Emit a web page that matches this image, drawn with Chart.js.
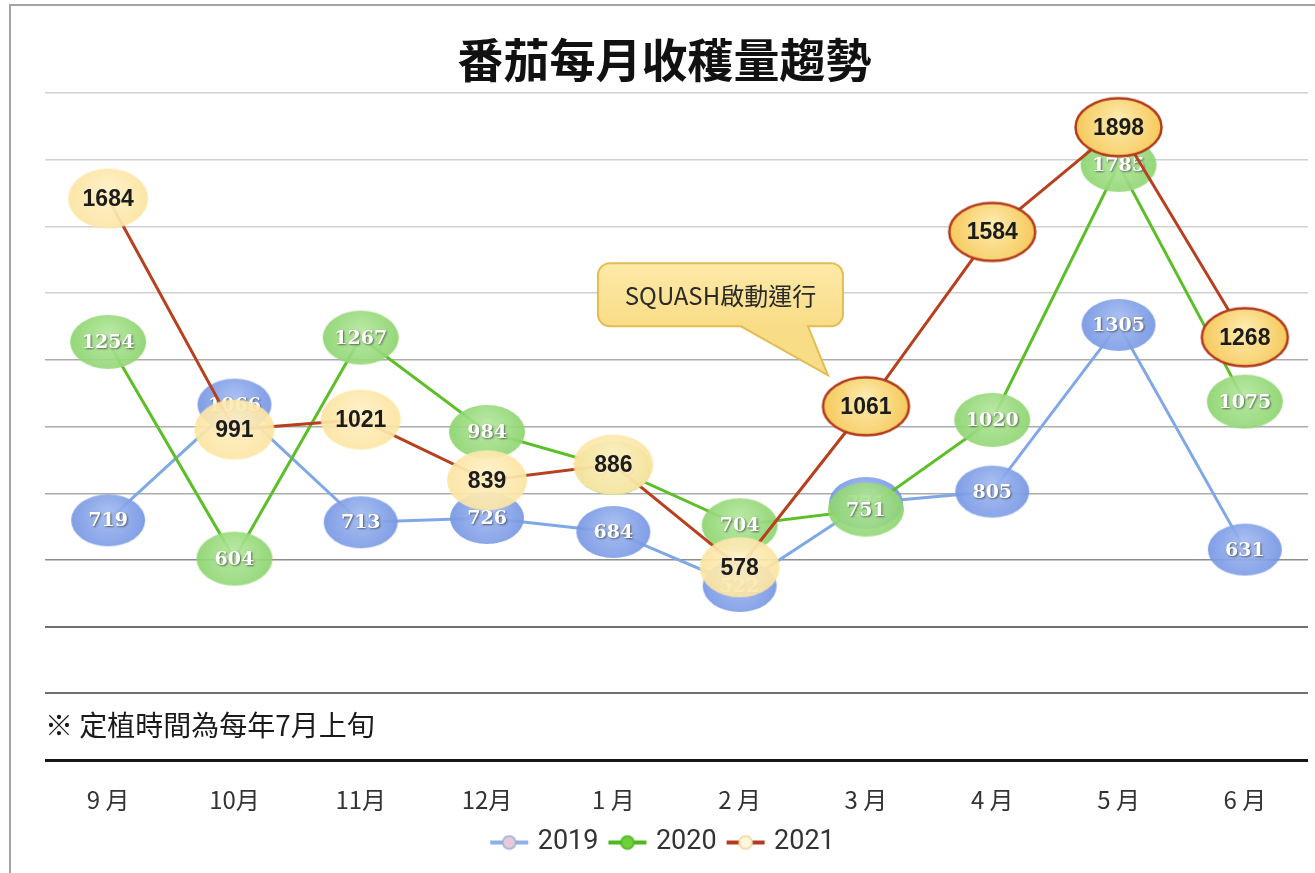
<!DOCTYPE html>
<html>
<head>
<meta charset="utf-8">
<script src="https://cdn.jsdelivr.net/npm/chart.js@4.4.1/dist/chart.umd.min.js"></script>
<style>
  html, body { margin: 0; padding: 0; background: #fff; overflow: hidden; width: 1315px; height: 873px; }
  #frame { position: absolute; left: 9px; top: 4px; border-left: 2px solid #a3a3a3; border-top: 2px solid #a3a3a3; }
  canvas { display: block; }
</style>
</head>
<body>
<div id="frame"><canvas id="harvest-chart" width="1330" height="867"></canvas></div>
<script>
// data
const months = ['9 月', '10月', '11月', '12月', '1 月', '2 月', '3 月', '4 月', '5 月', '6 月'];
const harvest2019 = [719, 1066, 713, 726, 684, 522, 771, 805, 1305, 631];
const harvest2020 = [1254, 604, 1267, 984, 876, 704, 751, 1020, 1785, 1075];
const harvest2021 = [1684, 991, 1021, 839, 886, 578, 1061, 1584, 1898, 1268];
const seriesNames = ['2019', '2020', '2021'];
const yMin = 0, yMax = 2000, yStep = 200;

const titleText = '番茄每月收穫量趨勢';
const calloutText = 'SQUASH啟動運行';
const calloutIndex = 6;        // 3月, when SQUASH started
const noteText = '※ 定植時間為每年7月上旬';

const cjk = '"Noto Sans CJK TC", "Noto Sans", sans-serif';

// ellipse markers as little canvases
function ellipseImage(rx, ry, inner, outer, stroke, lw) {
  const pad = (lw || 0) + 1;
  const c = document.createElement('canvas');
  c.width = Math.ceil(rx * 2 + pad * 2);
  c.height = Math.ceil(ry * 2 + pad * 2);
  const g = c.getContext('2d');
  const cx = c.width / 2, cy = c.height / 2;
  const grad = g.createRadialGradient(cx, cy - ry * 0.3, 2, cx, cy, Math.max(rx, ry));
  grad.addColorStop(0, inner);
  grad.addColorStop(1, outer);
  g.beginPath();
  g.ellipse(cx, cy, rx, ry, 0, 0, Math.PI * 2);
  g.fillStyle = grad;
  g.fill();
  if (stroke) {
    g.lineWidth = lw;
    g.strokeStyle = stroke;
    g.stroke();
  }
  return c;
}

const blueDot = ellipseImage(37, 26, 'rgba(160,185,240,0.92)', 'rgba(118,150,228,0.92)');
const greenDot = ellipseImage(38, 27, 'rgba(178,230,155,0.92)', 'rgba(140,212,110,0.92)');
const paleDot = ellipseImage(40, 30, 'rgba(255,240,196,0.93)', 'rgba(252,228,160,0.93)');
const boldDot = ellipseImage(43, 29, '#fdebae', '#f6c95a', '#b2391b', 2.5);

function legendIcon(lineColor, dotFill, dotStroke) {
  const c = document.createElement('canvas');
  c.width = 40; c.height = 16;
  const g = c.getContext('2d');
  g.strokeStyle = lineColor;
  g.lineWidth = 4;
  g.beginPath(); g.moveTo(1, 8); g.lineTo(39, 8); g.stroke();
  g.beginPath(); g.arc(20, 8, 6.5, 0, Math.PI * 2);
  g.fillStyle = dotFill; g.fill();
  g.lineWidth = 1.5; g.strokeStyle = dotStroke; g.stroke();
  return c;
}
const legendIcons = [
  legendIcon('#8cb0e8', '#e8c9d8', '#9aaed8'),
  legendIcon('#4db81e', '#6cd03a', '#4db81e'),
  legendIcon('#b53a1c', '#fff6de', '#f0d49a')
];

// value labels, drawn right after each dataset so later ones cover them
const valueLabels = {
  id: 'valueLabels',
  afterDatasetDraw(chart, args) {
    const ds = chart.data.datasets[args.index];
    const ctx = chart.ctx;
    ctx.save();
    ctx.textAlign = 'center';
    ctx.textBaseline = 'middle';
    args.meta.data.forEach((pt, i) => {
      if (ds.label === '2021') {
        ctx.font = 'bold 23px "Liberation Sans", sans-serif';
        ctx.fillStyle = '#1c1c1c';
      } else {
        ctx.font = 'bold 19px "DejaVu Serif", serif';
        ctx.fillStyle = '#ffffff';
        ctx.shadowColor = 'rgba(40,40,40,0.65)';
        ctx.shadowBlur = 2;
        ctx.shadowOffsetX = 1;
        ctx.shadowOffsetY = 1;
      }
      ctx.fillText(String(ds.data[i]), pt.x, pt.y + 1);
    });
    ctx.restore();
  }
};

// speech bubble and the planting note
const notes = {
  id: 'notes',
  afterDatasetsDraw(chart) {
    const { ctx, chartArea, scales } = chart;
    const p = chart.getDatasetMeta(2).data[calloutIndex];
    const left = p.x - 268, right = p.x - 23, top = p.y - 143, bottom = p.y - 80, r = 12;
    ctx.save();
    ctx.beginPath();
    ctx.moveTo(left + r, top);
    ctx.lineTo(right - r, top);
    ctx.arcTo(right, top, right, top + r, r);
    ctx.lineTo(right, bottom - r);
    ctx.arcTo(right, bottom, right - r, bottom, r);
    ctx.lineTo(p.x - 58, bottom);
    ctx.lineTo(p.x - 38, p.y - 31);
    ctx.lineTo(p.x - 125, bottom);
    ctx.lineTo(left + r, bottom);
    ctx.arcTo(left, bottom, left, bottom - r, r);
    ctx.lineTo(left, top + r);
    ctx.arcTo(left, top, left + r, top, r);
    ctx.closePath();
    const grad = ctx.createLinearGradient(0, top, 0, bottom);
    grad.addColorStop(0, '#fdeaa8');
    grad.addColorStop(1, '#f9dc86');
    ctx.fillStyle = grad;
    ctx.fill();
    ctx.lineWidth = 2;
    ctx.strokeStyle = '#e3bd52';
    ctx.stroke();

    ctx.fillStyle = '#2a2a2a';
    ctx.font = '24px ' + cjk;
    ctx.textAlign = 'center';
    ctx.textBaseline = 'middle';
    ctx.fillText(calloutText, (left + right) / 2, (top + bottom) / 2 + 1);

    ctx.textAlign = 'left';
    ctx.fillStyle = '#1a1a1a';
    ctx.font = '28px ' + cjk;
    ctx.fillText(noteText, chartArea.left, scales.y.getPixelForValue(100) - 1);
    ctx.restore();
  }
};

function gridColor(v) {
  if (v === 0) return '#161616';
  if (v <= 400) return '#707070';
  if (v <= 600) return '#8c8c8c';
  if (v <= 1200) return '#ababab';
  return '#d0d0d0';
}

new Chart(document.querySelector('#harvest-chart').getContext('2d'), {
  type: 'line',
  data: {
    labels: months,
    datasets: [
      {
        label: seriesNames[0],
        data: harvest2019,
        borderColor: '#80a8e6',
        borderWidth: 3,
        pointStyle: blueDot,
        pointRadius: 26,
        order: 3
      },
      {
        label: seriesNames[1],
        data: harvest2020,
        borderColor: '#5cbf27',
        borderWidth: 3,
        pointStyle: greenDot,
        pointRadius: 27,
        order: 2
      },
      {
        label: seriesNames[2],
        data: harvest2021,
        borderColor: '#b8401f',
        borderWidth: 3,
        pointStyle: ctx => ctx.dataIndex >= calloutIndex ? boldDot : paleDot,
        pointRadius: 30,
        order: 1
      }
    ]
  },
  options: {
    responsive: false,
    animation: false,
    devicePixelRatio: 1,
    layout: { padding: { left: 0, right: 23, top: 0, bottom: 7 } },
    scales: {
      x: {
        offset: true,
        grid: { display: false, drawTicks: false },
        border: { display: false },
        ticks: { color: '#333', padding: 28, font: { size: 24, family: cjk, lineHeight: 1 } },
        afterFit: s => { s.height = 55; }
      },
      y: {
        min: yMin,
        max: yMax,
        ticks: { display: false, stepSize: yStep },
        border: { display: false },
        grid: {
          drawTicks: false,
          color: c => gridColor(c.tick.value),
          lineWidth: c => c.tick.value === 0 ? 3 : (c.tick.value <= 400 ? 2 : 1.5)
        },
        afterFit: s => { s.width = 34; }
      }
    },
    plugins: {
      title: {
        display: true,
        text: titleText,
        color: '#111',
        font: { size: 46, weight: 'bold', family: cjk },
        padding: { top: 26, bottom: 6 }
      },
      legend: {
        position: 'bottom',
        labels: {
          usePointStyle: true,
          pointStyleWidth: 30,
          padding: 14,
          color: '#333',
          font: { size: 27, family: 'Roboto, "Noto Sans", sans-serif' },
          sort: (a, b) => a.datasetIndex - b.datasetIndex,
          generateLabels: chart => {
            const items = Chart.defaults.plugins.legend.labels.generateLabels(chart);
            items.forEach(it => { it.pointStyle = legendIcons[it.datasetIndex]; });
            return items;
          }
        }
      },
      tooltip: { enabled: false }
    }
  },
  plugins: [valueLabels, notes]
});
</script>
</body>
</html>
